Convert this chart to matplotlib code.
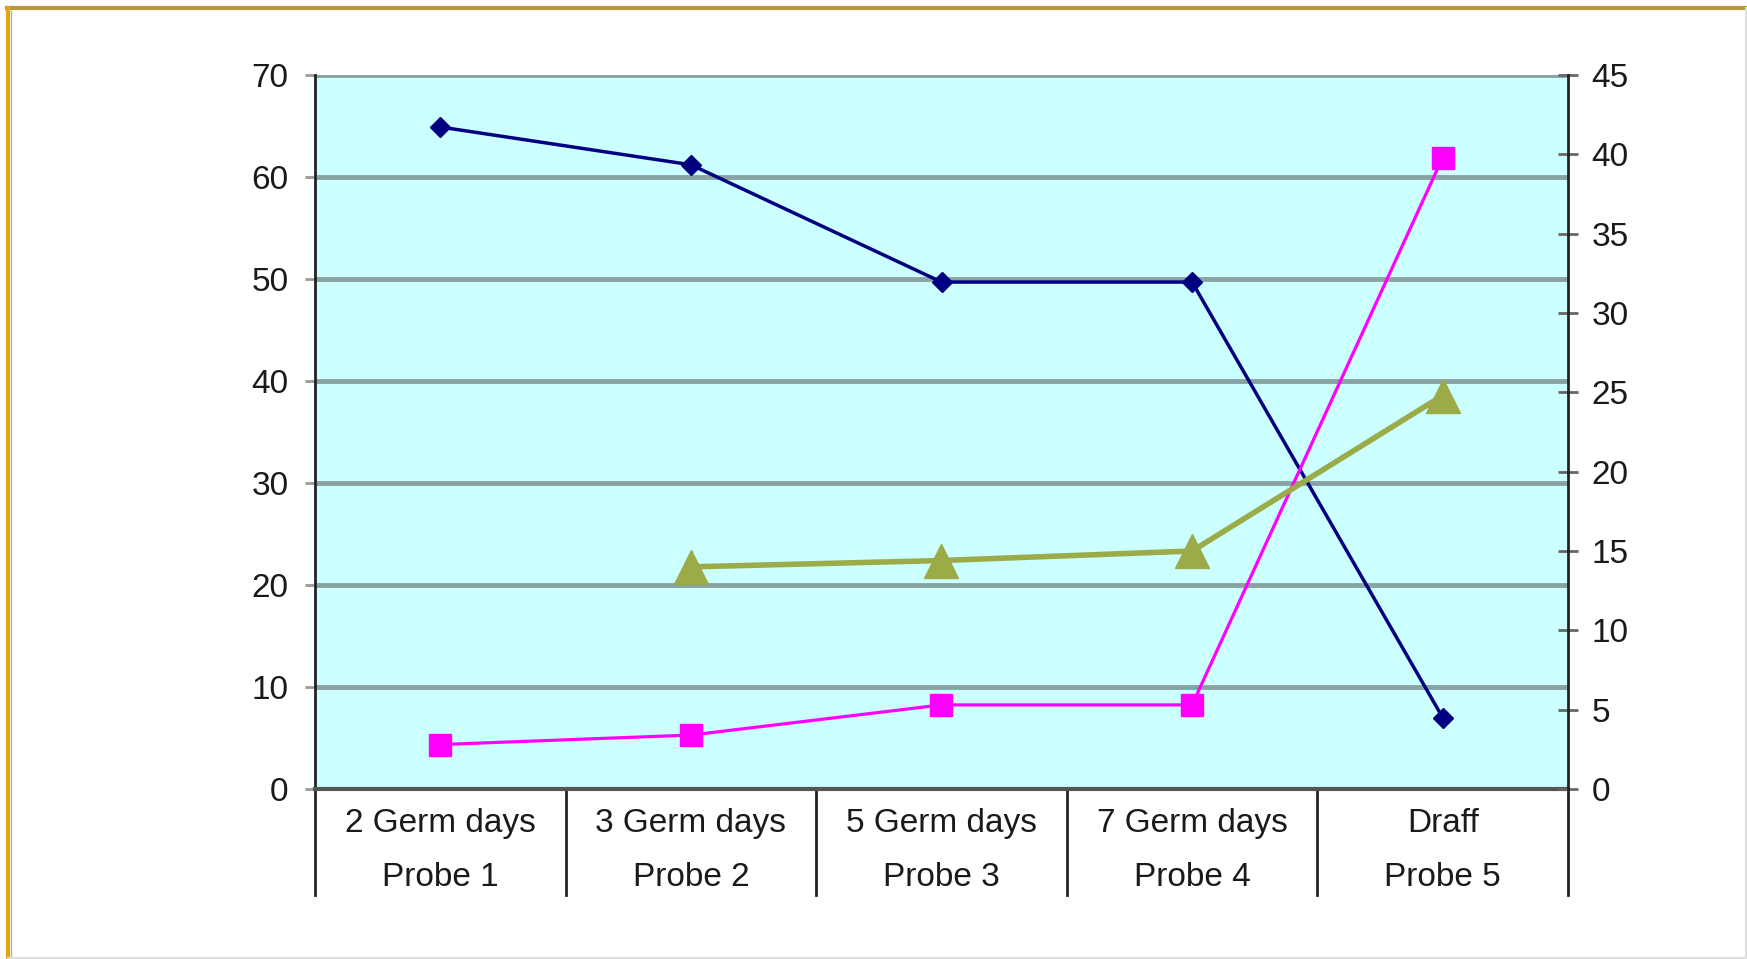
import numpy as np
import matplotlib.pyplot as plt
from matplotlib.lines import Line2D

plt.rcParams['font.family'] = ['Liberation Sans', 'DejaVu Sans']

# data
categories = ["2 Germ days\nProbe 1", "3 Germ days\nProbe 2", "5 Germ days\nProbe 3",
              "7 Germ days\nProbe 4", "Draff\nProbe 5"]
blue_left = [64.9, 61.2, 49.7, 49.7, 7.0]
magenta_right = [2.8, 3.4, 5.3, 5.3, 39.8]
green_right = [np.nan, 14.0, 14.4, 15.0, 24.8]

left_ticks = [0, 10, 20, 30, 40, 50, 60, 70]
right_ticks = [0, 5, 10, 15, 20, 25, 30, 35, 40, 45]

W, H = 1747, 959
fig = plt.figure(figsize=(W / 100, H / 100), dpi=100)
ax = fig.add_axes([315 / W, 1 - 789 / H, (1568 - 315) / W, (789 - 75) / H])
ax2 = ax.twinx()

x = np.arange(len(categories))

ax.set_facecolor('#ccffff')
ax.set_axisbelow(True)
ax.yaxis.grid(True, color='#89a3a3', lw=3.5)
ax.set_xlim(-0.5, len(categories) - 0.5)
ax.set_ylim(0, 70)
ax.set_yticks(left_ticks)
ax2.set_ylim(0, 45)
ax2.set_yticks(right_ticks)

ax.plot(x, blue_left, color='#000080', lw=2.5, marker='D', ms=10.5,
        markeredgecolor='#000080', zorder=3)
ax2.plot(x, magenta_right, color='#ff00ff', lw=2.3, marker='s', ms=16,
         markeredgecolor='#ff00ff', zorder=3)
ax2.plot(x, green_right, color='#9aab48', lw=4, marker='^', ms=24,
         markeredgecolor='#9aab48', zorder=3)

for s in ['top', 'right']:
    ax.spines[s].set_visible(False)
for s in ['top', 'left', 'bottom']:
    ax2.spines[s].set_visible(False)
ax.spines['left'].set_color('#222222')
ax.spines['left'].set_linewidth(2)
ax.spines['bottom'].set_color('#555555')
ax.spines['bottom'].set_linewidth(3)
ax2.spines['right'].set_color('#222222')
ax2.spines['right'].set_linewidth(2)

ax.tick_params(axis='y', direction='out', length=7, width=2, color='#999999',
               labelsize=24, labelcolor='#1a1a1a', pad=12)
ax2.tick_params(axis='y', direction='inout', length=14, width=2, color='#666666',
                labelsize=24, labelcolor='#1a1a1a', pad=10)
ax.set_xticks(x)
ax.set_xticklabels(categories, linespacing=1.95)
ax.tick_params(axis='x', length=0, labelsize=24, labelcolor='#1a1a1a', pad=14)

# category separators below the plot
for b in np.arange(-0.5, len(categories), 1.0):
    ax.plot([b, b], [0, -106 / 714], transform=ax.get_xaxis_transform(),
            color='#222222', lw=2, clip_on=False)

# picture frame
fig.add_artist(Line2D([7 / W, 1], [1 - 8 / H] * 2, color='#b8963c', lw=3,
                      transform=fig.transFigure))
fig.add_artist(Line2D([8 / W] * 2, [0, 1 - 8 / H], color='#e0a810', lw=3,
                      transform=fig.transFigure))
fig.add_artist(Line2D([11 / W] * 2, [0, 1 - 11 / H], color='#b0b0b0', lw=1,
                      transform=fig.transFigure))
fig.add_artist(Line2D([1 - 1.5 / W] * 2, [0, 1 - 8 / H], color='#dddddd', lw=1.5,
                      transform=fig.transFigure))
fig.add_artist(Line2D([8 / W, 1], [1.5 / H] * 2, color='#dddddd', lw=1.5,
                      transform=fig.transFigure))

fig.savefig('out.png', dpi=100)
